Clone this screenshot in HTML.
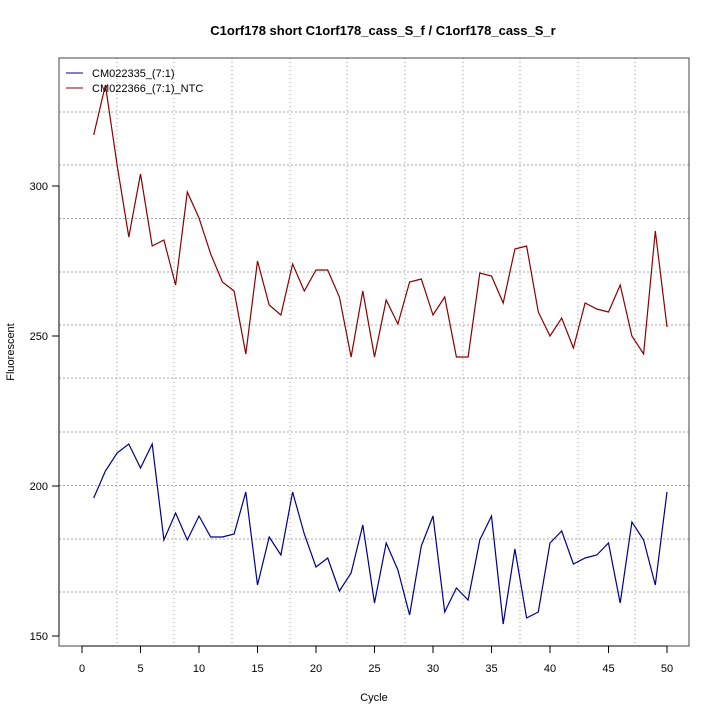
<!DOCTYPE html>
<html><head><style>body{margin:0;background:#fff}</style></head><body>
<svg width="720" height="720" xmlns="http://www.w3.org/2000/svg" font-family="Liberation Sans, sans-serif">
<rect width="720" height="720" fill="#fff"/>
<text x="383" y="35" font-size="13" font-weight="bold" text-anchor="middle">C1orf178 short C1orf178_cass_S_f / C1orf178_cass_S_r</text>
<g stroke="#999" stroke-dasharray="1,3" stroke-width="1">
<line x1="117" y1="58" x2="117" y2="646"/><line x1="174" y1="58" x2="174" y2="646"/><line x1="232" y1="58" x2="232" y2="646"/><line x1="290" y1="58" x2="290" y2="646"/><line x1="347" y1="58" x2="347" y2="646"/><line x1="405" y1="58" x2="405" y2="646"/><line x1="463" y1="58" x2="463" y2="646"/><line x1="520" y1="58" x2="520" y2="646"/><line x1="578" y1="58" x2="578" y2="646"/><line x1="635" y1="58" x2="635" y2="646"/>
</g>
<g stroke="#aaa" stroke-dasharray="2,2" stroke-width="1">
<line x1="59" y1="112" x2="689" y2="112"/><line x1="59" y1="165" x2="689" y2="165"/><line x1="59" y1="218.5" x2="689" y2="218.5"/><line x1="59" y1="272" x2="689" y2="272"/><line x1="59" y1="325" x2="689" y2="325"/><line x1="59" y1="378" x2="689" y2="378"/><line x1="59" y1="432" x2="689" y2="432"/><line x1="59" y1="485.5" x2="689" y2="485.5"/><line x1="59" y1="539" x2="689" y2="539"/><line x1="59" y1="592" x2="689" y2="592"/>
</g>
<rect x="59" y="58" width="630" height="588" fill="none" stroke="#444"/>
<g stroke="#000">
<line x1="82" y1="646" x2="667" y2="646"/>
<line x1="82" y1="646" x2="82" y2="653"/><line x1="140.5" y1="646" x2="140.5" y2="653"/><line x1="199" y1="646" x2="199" y2="653"/><line x1="257.5" y1="646" x2="257.5" y2="653"/><line x1="316" y1="646" x2="316" y2="653"/><line x1="374.5" y1="646" x2="374.5" y2="653"/><line x1="433" y1="646" x2="433" y2="653"/><line x1="491.5" y1="646" x2="491.5" y2="653"/><line x1="550" y1="646" x2="550" y2="653"/><line x1="608.5" y1="646" x2="608.5" y2="653"/><line x1="667" y1="646" x2="667" y2="653"/>
<line x1="59" y1="186" x2="59" y2="636"/>
<line x1="52" y1="186" x2="59" y2="186"/><line x1="52" y1="336" x2="59" y2="336"/><line x1="52" y1="486" x2="59" y2="486"/><line x1="52" y1="636" x2="59" y2="636"/>
</g>
<g font-size="11" text-anchor="middle">
<text x="82" y="672">0</text><text x="140.5" y="672">5</text><text x="199" y="672">10</text><text x="257.5" y="672">15</text><text x="316" y="672">20</text><text x="374.5" y="672">25</text><text x="433" y="672">30</text><text x="491.5" y="672">35</text><text x="550" y="672">40</text><text x="608.5" y="672">45</text><text x="667" y="672">50</text>
<text x="374" y="701">Cycle</text>
</g>
<g font-size="11" text-anchor="end">
<text x="48" y="190">300</text><text x="48" y="340">250</text><text x="48" y="490">200</text><text x="48" y="640">150</text>
</g>
<text x="14" y="352" font-size="11" text-anchor="middle" transform="rotate(-90 14 352)">Fluorescent</text>
<polyline fill="none" stroke="#8b0000" stroke-width="1.2" points="93.7,135 105.4,85 117.1,165 128.8,237 140.5,174 152.2,246 163.9,240 175.6,285 187.3,192 199,218 210.7,254 222.4,282 234.1,291 245.8,354 257.5,261 269.2,305 280.9,315 292.6,264 304.3,291 316,270 327.7,270 339.4,297 351.1,357 362.8,291 374.5,357 386.2,300 397.9,324 409.6,282 421.3,279 433,315 444.7,297 456.4,357 468.1,357 479.8,273 491.5,276 503.2,303 514.9,249 526.6,246 538.3,312 550,336 561.7,318 573.4,348 585.1,303 596.8,309 608.5,312 620.2,285 631.9,336 643.6,354 655.3,231 667,327"/>
<polyline fill="none" stroke="#00008b" stroke-width="1.2" points="93.7,498 105.4,471 117.1,453 128.8,444 140.5,468 152.2,444 163.9,540 175.6,513 187.3,540 199,516 210.7,537 222.4,537 234.1,534 245.8,492 257.5,585 269.2,537 280.9,555 292.6,492 304.3,534 316,567 327.7,558 339.4,591 351.1,573 362.8,525 374.5,603 386.2,543 397.9,570 409.6,615 421.3,546 433,516 444.7,612 456.4,588 468.1,600 479.8,540 491.5,516 503.2,624 514.9,549 526.6,618 538.3,612 550,543 561.7,531 573.4,564 585.1,558 596.8,555 608.5,543 620.2,603 631.9,522 643.6,540 655.3,585 667,492"/>
<line x1="66" y1="73" x2="83" y2="73" stroke="#00008b"/>
<line x1="66" y1="88" x2="83" y2="88" stroke="#8b0000"/>
<text x="92" y="77" font-size="11">CM022335_(7:1)</text>
<text x="92" y="92" font-size="11">CM022366_(7:1)_NTC</text>
</svg>
</body></html>
